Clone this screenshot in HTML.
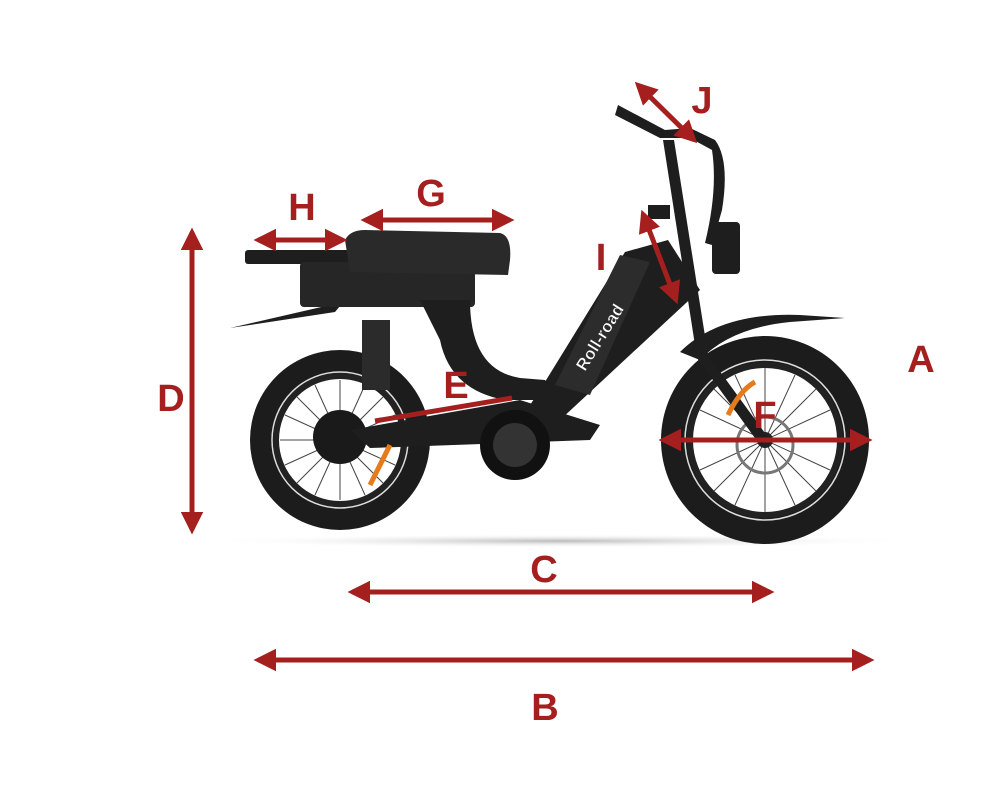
<!DOCTYPE html>
<html><head><meta charset="utf-8"><style>
html,body{margin:0;padding:0;background:#fff;}
svg{display:block}
text{font-family:"Liberation Sans",sans-serif;font-weight:bold;fill:#a51f1f}
</style></head><body>
<svg width="1000" height="800" viewBox="0 0 1000 800" xmlns="http://www.w3.org/2000/svg">
<defs>
<marker id="ah" viewBox="0 0 10 10" refX="8" refY="5" markerWidth="4.5" markerHeight="4.5" orient="auto-start-reverse">
<path d="M0,0 L10,5 L0,10 Z" fill="#a51f1f"/></marker>
<radialGradient id="sh" cx="0.5" cy="0.5" r="0.5"><stop offset="0" stop-color="#bbb"/><stop offset="1" stop-color="#fff" stop-opacity="0"/></radialGradient>
</defs>
<ellipse cx="560" cy="541" rx="360" ry="7" fill="url(#sh)"/>
<!-- wheels -->
<g>
<circle cx="340" cy="440" r="90" fill="#1c1c1c"/>
<circle cx="340" cy="440" r="68" fill="none" stroke="#ddd" stroke-width="1.5"/>
<circle cx="340" cy="440" r="64" fill="#fff"/>
<circle cx="340" cy="440" r="64" fill="none" stroke="#222" stroke-width="6"/>
<g stroke="#444" stroke-width="1">
<line x1="280" y1="440" x2="400" y2="440"/><line x1="340" y1="380" x2="340" y2="500"/>
<line x1="297" y1="397" x2="383" y2="483"/><line x1="383" y1="397" x2="297" y2="483"/>
<line x1="285" y1="415" x2="395" y2="465"/><line x1="285" y1="465" x2="395" y2="415"/>
<line x1="315" y1="385" x2="365" y2="495"/><line x1="365" y1="385" x2="315" y2="495"/>
</g>
<circle cx="340" cy="437" r="27" fill="#1a1a1a"/>
<circle cx="765" cy="440" r="104" fill="#1c1c1c"/>
<circle cx="765" cy="440" r="80" fill="none" stroke="#ddd" stroke-width="1.5"/>
<circle cx="765" cy="440" r="75" fill="#fff"/>
<circle cx="765" cy="440" r="75" fill="none" stroke="#222" stroke-width="6"/>
<g stroke="#444" stroke-width="1">
<line x1="693" y1="440" x2="837" y2="440"/><line x1="765" y1="368" x2="765" y2="512"/>
<line x1="714" y1="389" x2="816" y2="491"/><line x1="816" y1="389" x2="714" y2="491"/>
<line x1="700" y1="410" x2="830" y2="470"/><line x1="700" y1="470" x2="830" y2="410"/>
<line x1="735" y1="375" x2="795" y2="505"/><line x1="795" y1="375" x2="735" y2="505"/>
</g>
<circle cx="765" cy="445" r="28" fill="none" stroke="#777" stroke-width="3"/>
<circle cx="765" cy="440" r="8" fill="#222"/>
</g>
<!-- frame -->
<g fill="#1e1e1e">
<path d="M230,328 L330,305 L345,300 L335,312 Z"/>
<path d="M680,352 Q720,312 800,315 L845,318 L790,322 Q730,328 700,360 Z"/>
<rect x="245" y="250" width="105" height="14" rx="3"/>
<rect x="300" y="262" width="175" height="45" rx="4" fill="#262626"/>
<path d="M345,240 Q350,230 365,230 L500,233 Q512,236 510,260 L508,275 L350,272 Z" fill="#2a2a2a"/>
<path d="M420,300 L470,300 Q470,370 520,378 L545,380 L560,400 L505,400 Q450,390 440,340 Z"/>
<path d="M540,390 L625,252 L668,240 L700,290 L560,420 L520,420 Z"/>
<path d="M555,385 L620,255 L650,262 L590,395 Z" fill="#2c2c2c"/>
<path d="M350,430 L520,400 L600,425 L590,440 L370,448 Z"/>
<rect x="362" y="320" width="28" height="70" fill="#2b2b2b"/>
<circle cx="515" cy="445" r="35" fill="#111"/>
<circle cx="515" cy="445" r="22" fill="#333"/>
<path d="M663,140 L674,140 L708,355 L770,440 L760,445 L697,358 Z"/>
<path d="M618,105 L665,130 L690,128 L715,140 Q730,160 722,210 L712,245 L705,243 Q718,190 712,150 L690,138 L660,138 L615,115 Z"/>
<rect x="712" y="222" width="28" height="52" rx="4"/>
<rect x="648" y="205" width="22" height="14"/>
</g>
<!-- orange accents -->
<path d="M370,485 L390,445" stroke="#e67b1c" stroke-width="5"/>
<path d="M728,415 Q740,390 755,382" stroke="#e67b1c" stroke-width="5" fill="none"/>
<text x="585" y="372" font-size="17" transform="rotate(-58 585 372)" style="fill:#fff;stroke:#333;stroke-width:0.5">Roll-road</text>
<!-- dimension arrows -->
<g stroke="#a51f1f" stroke-width="5" fill="none" marker-start="url(#ah)" marker-end="url(#ah)">
<line x1="192" y1="232" x2="192" y2="530"/>
<line x1="352" y1="592" x2="770" y2="592"/>
<line x1="258" y1="660" x2="870" y2="660"/>
<line x1="663" y1="440" x2="868" y2="440"/>
<line x1="258" y1="240" x2="343" y2="240"/>
<line x1="365" y1="220" x2="510" y2="220"/>
<line x1="643" y1="214" x2="676" y2="300"/>
<line x1="638" y1="85" x2="694" y2="140"/>
</g>
<line x1="375" y1="421" x2="512" y2="398" stroke="#a51f1f" stroke-width="5"/>
<g font-size="38" text-anchor="middle">
<text x="171" y="411">D</text>
<text x="921" y="372">A</text>
<text x="544" y="582">C</text>
<text x="545" y="720">B</text>
<text x="765" y="428">F</text>
<text x="302" y="220">H</text>
<text x="431" y="206">G</text>
<text x="601" y="270">I</text>
<text x="702" y="113">J</text>
<text x="456" y="398">E</text>
</g>
</svg>
</body></html>
